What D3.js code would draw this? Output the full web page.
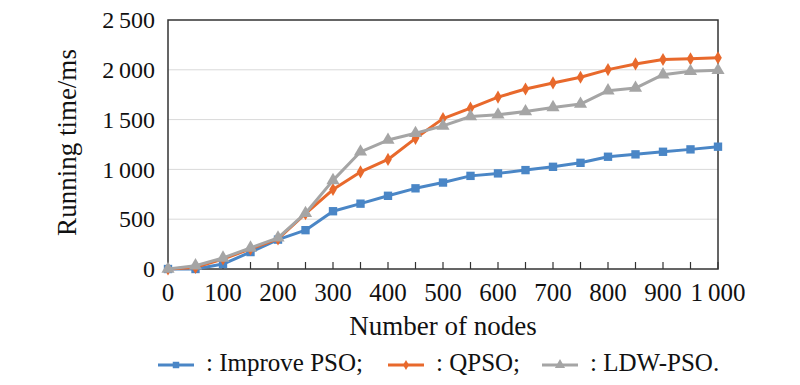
<!doctype html>
<html>
<head>
<meta charset="utf-8" />
<title>Running time vs number of nodes</title>
<script src="https://cdn.jsdelivr.net/npm/d3@7"></script>
<style>
  html,body{margin:0;background:#fff}
  svg{display:block}
  text{font-family:"Liberation Serif","Times New Roman",serif;fill:#111}
  .grid line{stroke:#d9d9d9;stroke-width:1}
  .frame{fill:none;stroke:#333;stroke-width:1.5}
</style>
</head>
<body>
<svg id="chart" width="800" height="385"></svg>
<script>
/* ── data ── */
const nodes   = [0,50,100,150,200,250,300,350,400,450,500,550,600,650,700,750,800,850,900,950,1000];
const improve = [0,0,50,170,295,390,580,656,735,810,868,935,960,993,1026,1066,1127,1151,1177,1201,1228];
const qpso    = [0,16,100,202,303,555,798,975,1100,1312,1510,1615,1726,1807,1868,1925,2002,2059,2103,2110,2120];
const ldw     = [0,33,111,212,313,560,890,1177,1295,1363,1437,1531,1548,1581,1622,1656,1790,1817,1951,1985,1995];
const yTicks  = [0,500,1000,1500,2000,2500];
const xLabels = [0,100,200,300,400,500,600,700,800,900,1000];

const seriesNames = [': Improve PSO;', ': QPSO;', ': LDW-PSO.'];
const colors = ['#4a86c6', '#e8692c', '#a5a5a5'];

/* ── layout ── */
const svg = d3.select('#chart');
const m = {l:168, r:718, t:20, b:269};

const x = d3.scaleLinear().domain([0,1000]).range([m.l, m.r]);
const y = d3.scaleLinear().domain([0,2500]).range([m.b, m.t]);

// number format with a space as thousands separator: 1 000, 2 500
const fmt = v => v >= 1000 ? Math.floor(v/1000) + '\u2009' + d3.format('03d')(v % 1000) : String(v);

/* gridlines */
svg.append('g').attr('class','grid')
  .selectAll('line').data(yTicks.slice(1,-1)).join('line')
  .attr('x1', m.l).attr('x2', m.r)
  .attr('y1', d => y(d)).attr('y2', d => y(d));

/* y axis labels */
svg.append('g').selectAll('text').data(yTicks).join('text')
  .attr('x', 155).attr('y', d => y(d))
  .attr('dy', '0.34em')
  .attr('text-anchor','end')
  .style('font-size','24px')
  .text(fmt);

/* x ticks (inside, every 50) */
svg.append('g').selectAll('line').data(nodes).join('line')
  .attr('x1', d => x(d)).attr('x2', d => x(d))
  .attr('y1', m.b).attr('y2', m.b - 7)
  .attr('stroke','#333').attr('stroke-width',1.2);

/* x labels */
svg.append('g').selectAll('text').data(xLabels).join('text')
  .attr('x', d => x(d)).attr('y', 301)
  .attr('text-anchor','middle')
  .style('font-size','25px')
  .text(fmt);

/* frame */
svg.append('rect').attr('class','frame')
  .attr('x', m.l).attr('y', m.t)
  .attr('width', m.r - m.l).attr('height', m.b - m.t);

/* axis titles */
svg.append('text')
  .attr('x', 443).attr('y', 335)
  .attr('text-anchor','middle')
  .style('font-size','27px')
  .text('Number of nodes');

svg.append('text')
  .attr('transform', `translate(76,${(m.t+m.b)/2 - 2}) rotate(-90)`)
  .attr('text-anchor','middle')
  .style('font-size','27px')
  .text('Running time/ms');

/* markers */
const symbols = [d3.symbolSquare, d3.symbolDiamond, d3.symbolTriangle];
const sizes   = [70, 50, 75];

const data = [improve, qpso, ldw];
const line = d3.line().x((d,i) => x(nodes[i])).y(d => y(d));

data.forEach((vals, k) => {
  const g = svg.append('g');
  g.append('path')
    .datum(vals)
    .attr('d', line)
    .attr('fill','none')
    .attr('stroke', colors[k])
    .attr('stroke-width', 3)
    .attr('stroke-linejoin','round');
  g.selectAll('path.mk').data(vals).join('path')
    .attr('class','mk')
    .attr('transform', (d,i) => `translate(${x(nodes[i])},${y(d)})`)
    .attr('d', d3.symbol().type(symbols[k]).size(sizes[k]))
    .attr('fill', colors[k]);
});

/* legend */
const legendX = [158, 388, 542];
const legendG = svg.append('g');
seriesNames.forEach((name, k) => {
  const lx = legendX[k], ly = 365;
  legendG.append('line')
    .attr('x1', lx).attr('x2', lx + 36)
    .attr('y1', ly).attr('y2', ly)
    .attr('stroke', colors[k]).attr('stroke-width', 3);
  legendG.append('path')
    .attr('transform', `translate(${lx + 18},${ly})`)
    .attr('d', d3.symbol().type(symbols[k]).size(sizes[k] * 0.6))
    .attr('fill', colors[k]);
  legendG.append('text')
    .attr('x', lx + 48).attr('y', 371)
    .style('font-size','25px')
    .text(name);
});
</script>
</body>
</html>
